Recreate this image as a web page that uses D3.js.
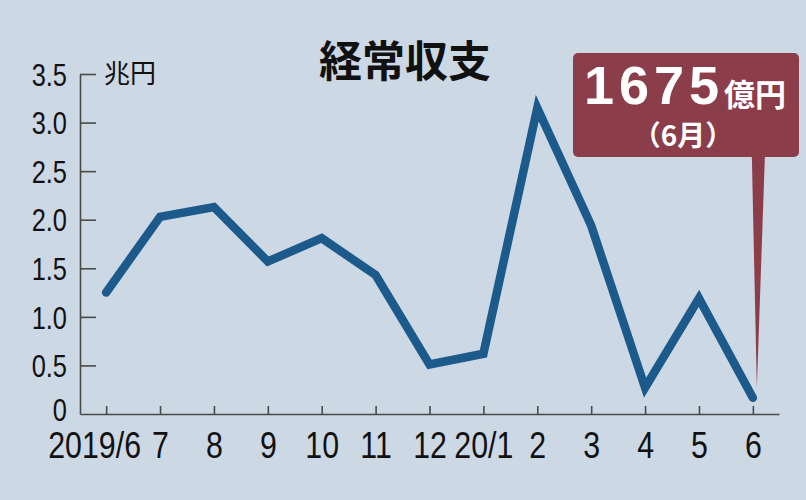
<!DOCTYPE html>
<html><head><meta charset="utf-8">
<script src="https://cdn.jsdelivr.net/npm/d3@7"></script>
<style>
html,body{margin:0;padding:0;background:#cdd8e5;}
svg{display:block;}
</style></head>
<body>
<svg id="c" width="806" height="500"></svg>
<script>
// ---- data ----
const months = ["2019/6","7","8","9","10","11","12","20/1","2","3","4","5","6"];
const values = [1.25, 2.03, 2.13, 1.57, 1.81, 1.43, 0.51, 0.62, 3.15, 1.94, 0.27, 1.19, 0.1675];
const yTicks = [0, 0.5, 1.0, 1.5, 2.0, 2.5, 3.0, 3.5];
const title = "経常収支";
const unitLabel = "兆円";
const calloutValue = "1675";
const calloutUnit = "億円";
const calloutSub = "（6月）";

// ---- font detection for condensed digits ----
function measure(font, txt){const c=document.createElement("canvas").getContext("2d");c.font=font;return c.measureText(txt).width;}
const hasNarrow = measure("40px 'Liberation Sans Narrow', monospace","2019/6") !== measure("40px monospace","2019/6");
const numFont = hasNarrow ? "'Liberation Sans Narrow', 'Arial Narrow', sans-serif" : "'Liberation Sans', Arial, sans-serif";
const sx = hasNarrow ? 1 : 0.82;

const svg = d3.select("#c");
svg.append("rect").attr("width",806).attr("height",500).attr("fill","#cdd8e5");

const x = d3.scalePoint().domain(months).range([80, 779]).padding(0.485);
const y = d3.scaleLinear().domain([0, 3.5]).range([414, 74]);

const axisColor = "#4a4a4a";

// y axis
const gy = svg.append("g").attr("transform","translate(80,0)")
  .call(d3.axisLeft(y).tickValues(yTicks).tickSizeInner(-16).tickSizeOuter(0)
        .tickFormat(d => d === 0 ? "0" : d.toFixed(1)));
gy.select(".domain").attr("stroke",axisColor).attr("stroke-width",1.6);
gy.selectAll(".tick line").attr("stroke",axisColor).attr("stroke-width",1.6)
  .attr("display", d => d === 0 ? "none" : null);
gy.selectAll(".tick text")
  .attr("x",0).attr("dy", d => d === 0 ? "0.2em" : "0.36em")
  .attr("transform",`translate(-13,0) scale(${sx},1)`)
  .attr("text-anchor","end")
  .attr("fill","#111")
  .style("font-family",numFont).style("font-size","31px");

// x axis
const gx = svg.append("g").attr("transform","translate(0,414)")
  .call(d3.axisBottom(x).tickSizeInner(-8).tickSizeOuter(0));
gx.select(".domain").attr("stroke",axisColor).attr("stroke-width",1.6);
gx.selectAll(".tick line").attr("stroke",axisColor).attr("stroke-width",1.6);
gx.selectAll(".tick text")
  .attr("y",0).attr("dy",0)
  .attr("transform",(d,i) => `translate(${i===0?-12:0},44) scale(${sx},1)`)
  .attr("text-anchor","middle")
  .attr("fill","#111")
  .style("font-family",numFont).style("font-size","37px");

// unit label
svg.append("text").attr("x",104).attr("y",83).text(unitLabel)
  .attr("fill","#111").style("font-family","'Noto Sans CJK JP', sans-serif").style("font-size","26px");

// title
svg.append("text").attr("x",405).attr("y",77).attr("text-anchor","middle").text(title)
  .attr("fill","#111").style("font-family","'Noto Sans CJK JP', sans-serif")
  .style("font-size","43px").style("font-weight","700");

// line
const line = d3.line().x((d,i)=>x(months[i])).y(d=>y(d));
svg.append("path").datum(values).attr("d",line)
  .attr("fill","none").attr("stroke","#1c5a8c").attr("stroke-width",8.5)
  .attr("stroke-linejoin","miter").attr("stroke-linecap","round");

// callout
const calloutColor = "#8b3d4a";
const last = months.length-1;
const px = x(months[last]), py = y(values[last]);
svg.append("path")
  .attr("d",`M${px-1},157 L${px+12},157 L${px+4},${py-10} Z`)
  .attr("fill",calloutColor);
svg.append("rect").attr("x",573).attr("y",53).attr("width",226).attr("height",104)
  .attr("rx",5).attr("fill",calloutColor);
svg.append("text").attr("x",584).attr("y",104).text(calloutValue)
  .attr("fill","#fff").style("font-family","'Liberation Sans', Arial, sans-serif")
  .style("font-size","54px").style("font-weight","700").style("letter-spacing","5px");
svg.append("text").attr("x",724).attr("y",106).text(calloutUnit)
  .attr("fill","#fff").style("font-family","'Noto Sans CJK JP', sans-serif")
  .style("font-size","31px").style("font-weight","700");
svg.append("text").attr("x",683).attr("y",146).attr("text-anchor","middle").text(calloutSub)
  .attr("fill","#fff").style("font-family","'Noto Sans CJK JP', sans-serif")
  .style("font-size","28px").style("font-weight","700");
</script>
</body></html>
